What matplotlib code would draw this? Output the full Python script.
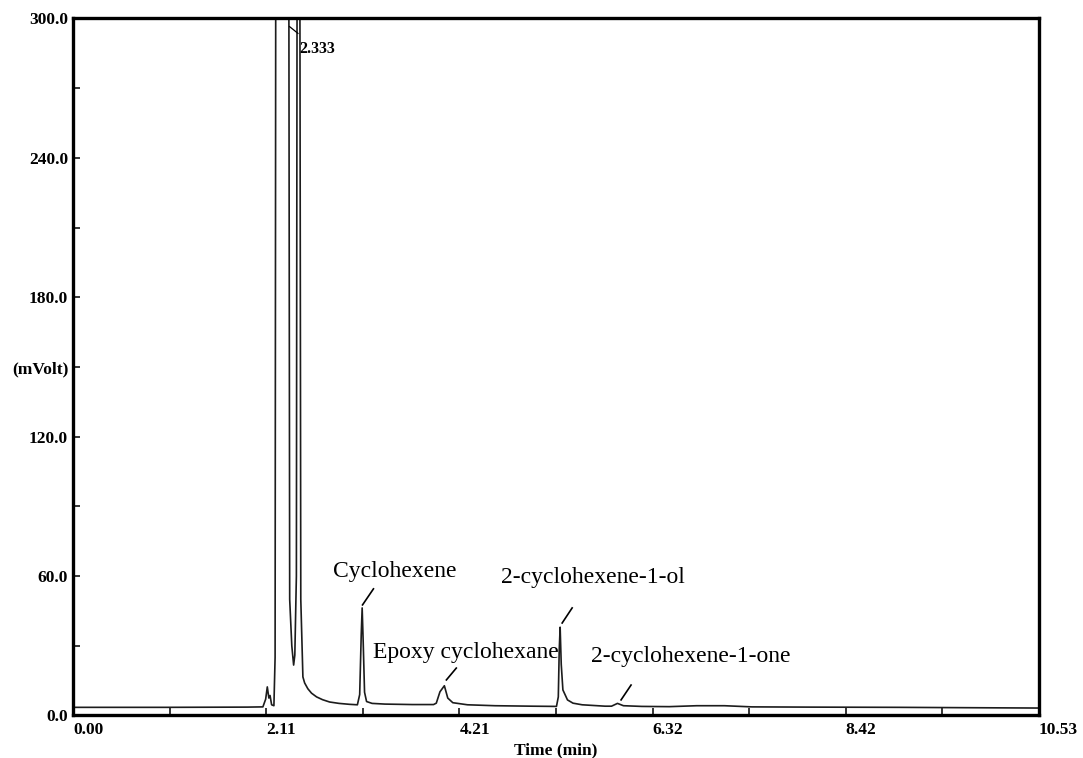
#!/usr/local/bin/python3
"""
GC trace of the cyclohexene oxidation products, detector signal vs time.
"""

#IMPORTS
import numpy as np
import matplotlib
matplotlib.use("Agg")
import matplotlib.pyplot as plt
#END IMPORTS


#Chromatogram trace, read point by point. 400 mV stands for the off-scale
# solvent peaks, which get clipped by the 300 mV top of the axis.
time_min = [0.00, 1.00, 1.90, 2.07, 2.10, 2.118, 2.135, 2.148, 2.165, 2.19,
            2.203, 2.212, 2.350, 2.362, 2.385, 2.405, 2.418, 2.435, 2.445, 2.470,
            2.483, 2.506, 2.525, 2.56, 2.60, 2.655, 2.72, 2.797, 2.90, 3.014,
            3.10, 3.125, 3.142, 3.152, 3.163, 3.178, 3.20, 3.26, 3.40, 3.70,
            3.93, 3.96, 4.00, 4.048, 4.085, 4.14, 4.30, 4.60, 5.00, 5.27,
            5.290, 5.300, 5.310, 5.322, 5.34, 5.39, 5.45, 5.55, 5.80, 5.87,
            5.935, 6.00, 6.20, 6.50, 6.80, 7.10, 7.40, 8.00, 9.00, 10.00,
            10.53]
signal_mv = [3.5, 3.5, 3.6, 3.7, 7.0, 12.3, 7.5, 8.6, 4.6, 4.2,
             25.0, 400, 400, 50.0, 30.0, 21.7, 26.0, 60.0, 400, 400,
             50.0, 16.6, 14.0, 11.5, 9.6, 8.0, 6.8, 5.8, 5.2, 4.8,
             4.6, 9.0, 35.0, 46.3, 32.0, 10.0, 6.0, 5.2, 4.9, 4.7,
             4.7, 5.3, 10.2, 12.8, 7.5, 5.5, 4.6, 4.2, 4.0, 3.9,
             8.0, 28.0, 38.0, 22.0, 11.0, 6.7, 5.3, 4.6, 4.0, 4.0,
             5.2, 4.2, 3.9, 3.8, 4.2, 4.2, 3.7, 3.6, 3.5, 3.3,
             3.2]

#Axis ticks
x_major = [0.00, 2.106, 4.212, 6.318, 8.424, 10.53]
x_labels = ["0.00", "2.11", "4.21", "6.32", "8.42", "10.53"]
y_ticks = [0, 30, 60, 90, 120, 150, 180, 210, 240, 270, 300]
y_labels = ["0.0", "", "60.0", "", "120.0", "(mVolt)", "180.0", "", "240.0", "", "300.0"]

#Named peaks
peak_names = ["Cyclohexene", "Epoxy cyclohexane", "2-cyclohexene-1-ol", "2-cyclohexene-1-one"]
solvent_rt = "2.333"


plt.rcParams['font.family'] = ['Liberation Serif', 'DejaVu Serif']

fig = plt.figure(figsize=(10.83, 7.58), dpi=100)
ax = fig.add_axes([0.0674, 0.0561, 0.8920, 0.9195])

ax.plot(time_min, signal_mv, color="#1c1c1c", lw=1.2, solid_joinstyle="round")

ax.set_xlim(0, 10.53)
ax.set_ylim(0, 300)

#frame and ticks
for side in ax.spines.values():
    side.set_linewidth(2.4)
    side.set_color("black")

ax.set_xticks(x_major)
ax.set_xticks([(a + b) / 2.0 for a, b in zip(x_major[:-1], x_major[1:])], minor=True)
ax.set_xticklabels(x_labels, fontweight="bold", fontsize=12.5, ha="left")
ax.set_yticks(y_ticks)
ax.set_yticklabels(y_labels, fontweight="bold", fontsize=12.5)
ax.tick_params(axis="both", which="both", direction="in", length=5, width=1.1)
ax.tick_params(axis="x", pad=4.5)
ax.tick_params(axis="y", pad=3.5)

ax.set_xlabel("Time (min)", fontweight="bold", fontsize=12.5, labelpad=3)

#peak labels with their little pointer strokes
name_pos = [(2.829, 59.8), (3.268, 24.6), (4.665, 56.9), (5.644, 23.2)]
pointers = [((3.156, 47.6), (3.275, 54.5)),
            ((4.070, 15.3), (4.178, 20.4)),
            ((5.332, 39.8), (5.441, 46.3)),
            ((5.974, 6.7), (6.083, 13.1))]
for name, pos, seg in zip(peak_names, name_pos, pointers):
    ax.text(pos[0], pos[1], name, fontsize=17, ha="left", va="baseline")
    ax.plot([seg[0][0], seg[1][0]], [seg[0][1], seg[1][1]], color="black", lw=1.2)

ax.text(2.463, 285.1, solvent_rt, fontsize=11.5, fontweight="bold", ha="left", va="baseline")
ax.plot([2.361, 2.452], [296.5, 293.6], color="black", lw=0.9, clip_on=False)

fig.savefig("out.png", dpi=100)
